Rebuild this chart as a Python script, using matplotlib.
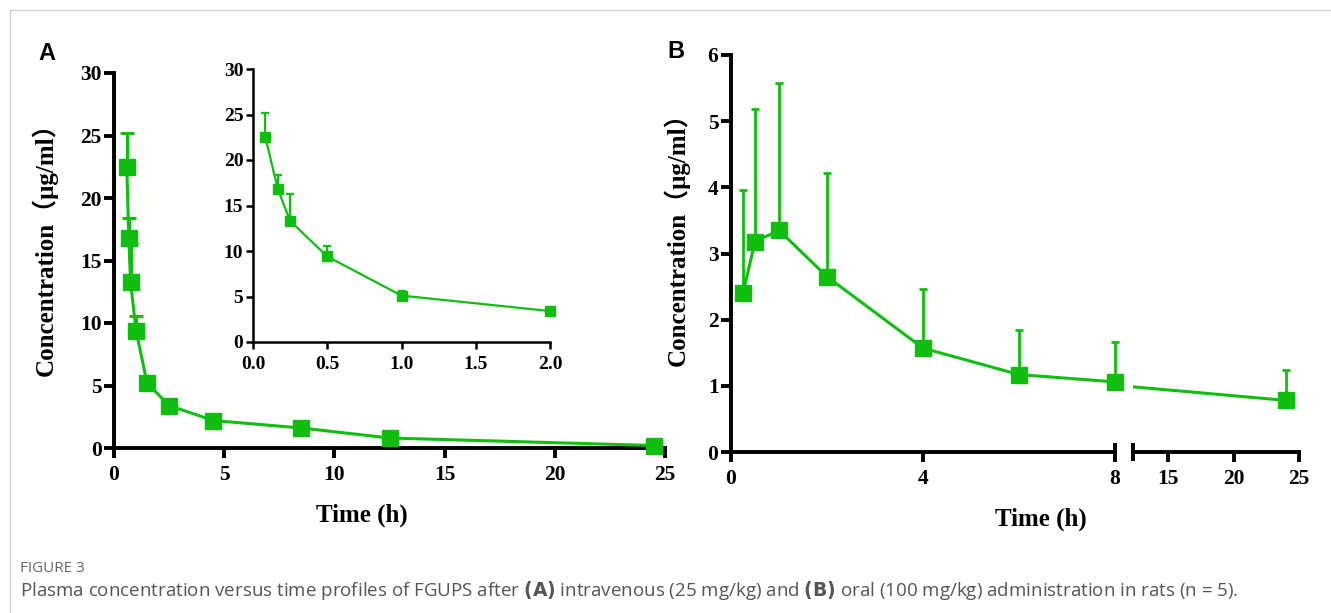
import matplotlib
matplotlib.use("Agg")
import matplotlib.pyplot as plt
from matplotlib.lines import Line2D

# ---------------- data ----------------
# Panel A (intravenous), main plot (x as plotted)
a_time = [0.58, 0.67, 0.75, 1.0, 1.5, 2.5, 4.5, 8.5, 12.5, 24.5]
a_conc = [22.5, 16.8, 13.3, 9.4, 5.2, 3.4, 2.2, 1.6, 0.8, 0.2]
a_err = [2.7, 1.6, 3.0, 1.2, 0.4, 0.2, 0.15, 0.1, 0.1, 0.05]
# Panel A inset (first 2 h)
ins_time = [0.083, 0.167, 0.25, 0.5, 1.0, 2.0]
ins_conc = [22.5, 16.8, 13.3, 9.4, 5.1, 3.4]
ins_err = [2.7, 1.6, 3.0, 1.2, 0.5, 0.1]
# Panel B (oral)
b_time = [0.25, 0.5, 1, 2, 4, 6, 8, 24]
b_conc = [2.40, 3.18, 3.35, 2.65, 1.57, 1.17, 1.06, 0.78]
b_err = [1.56, 2.00, 2.22, 1.57, 0.90, 0.67, 0.61, 0.46]

a_xticks = [0, 5, 10, 15, 20, 25]
a_yticks = [0, 5, 10, 15, 20, 25, 30]
ins_xticks = [0.0, 0.5, 1.0, 1.5, 2.0]
b_yticks = [0, 1, 2, 3, 4, 5, 6]
b_xticks1 = [0, 4, 8]
b_xticks2 = [15, 20, 25]

GREEN = "#10BE10"
W, H = 1331, 613
fig = plt.figure(figsize=(W / 100, H / 100), dpi=100)

def ax_px(l, r, t, b):
    return fig.add_axes([l / W, 1 - b / H, (r - l) / W, (b - t) / H])

SERIF = ["Liberation Serif", "Noto Sans CJK SC", "DejaVu Serif"]

def style(ax, lw=2.8, fs=15.5, tl=7, xpad=5, ypad=2):
    for s in ["top", "right"]:
        ax.spines[s].set_visible(False)
    for s in ["left", "bottom"]:
        ax.spines[s].set_linewidth(lw)
    ax.tick_params(width=lw, length=tl, direction="out")
    ax.tick_params(axis="x", pad=xpad)
    ax.tick_params(axis="y", pad=ypad)
    for lab in ax.get_xticklabels() + ax.get_yticklabels():
        lab.set_family(SERIF)
        lab.set_fontweight("bold")
        lab.set_fontsize(fs)

# ---------------- Panel A main ----------------
axA = ax_px(114, 665, 73, 448)
axA.errorbar(a_time, a_conc, yerr=[[0] * len(a_err), a_err], color=GREEN,
             lw=2.2, marker="s", ms=11.5, capsize=5, capthick=2.2, elinewidth=2.2,
             clip_on=False, zorder=3)
axA.set_xlim(0, 25)
axA.set_ylim(0, 30)
axA.set_xticks(a_xticks)
axA.set_yticks(a_yticks)
style(axA)
axA.set_ylabel("Concentration（μg/ml）", family=SERIF, fontweight="bold", fontsize=18)
axA.yaxis.set_label_coords(-(114 - 58) / (665 - 114), 0.545)

# ---------------- Panel A inset ----------------
axI = ax_px(253, 550, 69, 342)
axI.errorbar(ins_time, ins_conc, yerr=[[0] * len(ins_err), ins_err], color=GREEN,
             lw=1.6, marker="s", ms=6.5, capsize=3, capthick=1.6, elinewidth=1.6,
             clip_on=False, zorder=3)
axI.set_xlim(0, 2.0)
axI.set_ylim(0, 30)
axI.set_xticks(ins_xticks)
axI.set_xticklabels([f"{v:.1f}" for v in ins_xticks])
axI.set_yticks(a_yticks)
style(axI, lw=1.8, fs=14, tl=5, xpad=5, ypad=2)

# ---------------- Panel B ----------------
axB1 = ax_px(731, 1115, 55, 452)
axB1.errorbar(b_time[:-1], b_conc[:-1], yerr=[[0] * 7, b_err[:-1]], color=GREEN,
              lw=2.2, marker="s", ms=11.5, capsize=3, capthick=2.0, elinewidth=2.0,
              clip_on=False, zorder=3)
axB1.set_xlim(0, 8)
axB1.set_ylim(0, 6)
axB1.set_xticks(b_xticks1)
axB1.set_yticks(b_yticks)
style(axB1)
axB1.set_ylabel("Concentration（μg/ml）", family=SERIF, fontweight="bold", fontsize=18)
axB1.yaxis.set_label_coords(-(731 - 690) / (1115 - 731), 0.55)

axB2 = ax_px(1133, 1299, 55, 452)
axB2.plot(b_time[-2:], b_conc[-2:], color=GREEN, lw=2.2, clip_on=True, zorder=2)
axB2.errorbar(b_time[-1:], b_conc[-1:], yerr=[[0], b_err[-1:]], color=GREEN,
              lw=2.2, marker="s", ms=11.5, capsize=3, capthick=2.0, elinewidth=2.0,
              clip_on=False, zorder=3)
axB2.set_xlim(12.3, 25)
axB2.set_ylim(0, 6)
axB2.set_xticks(b_xticks2)
axB2.set_yticks([])
style(axB2)
axB2.spines["left"].set_visible(False)

# break caps
axB1.plot([8], [0], marker="|", ms=13, mew=2.8, color="black", clip_on=False, zorder=4)
axB2.plot([12.3], [0], marker="|", ms=13, mew=2.8, color="black", clip_on=False, zorder=4)

# x-axis titles
fig.text(362 / W, 1 - 515 / H, "Time (h)", family=SERIF, fontweight="bold",
         fontsize=18, ha="center", va="center")
fig.text(1041 / W, 1 - 519 / H, "Time (h)", family=SERIF, fontweight="bold",
         fontsize=18, ha="center", va="center")

# panel letters
fig.text(47 / W, 1 - 53 / H, "A", fontsize=17, fontweight="bold", family="Liberation Sans",
         ha="center", va="center")
fig.text(676 / W, 1 - 52 / H, "B", fontsize=17, fontweight="bold", family="Liberation Sans",
         ha="center", va="center")

# frame lines
fig.add_artist(Line2D([10 / W, 1], [1 - 10 / H, 1 - 10 / H], color="#d0d0d0", lw=1))
fig.add_artist(Line2D([10 / W, 10 / W], [0, 1 - 10 / H], color="#d0d0d0", lw=1))

# caption
fig.text(20 / W, 1 - 569 / H, "FIGURE 3", fontsize=11, color="#666666",
         family="Open Sans", va="center")
cap = ("Plasma concentration versus time profiles of FGUPS after $\\bf{(A)}$ intravenous (25 mg/kg) "
       "and $\\bf{(B)}$ oral (100 mg/kg) administration in rats (n = 5).")
fig.text(20 / W, 1 - 590 / H, cap, fontsize=13.5, color="#555555",
         family="Open Sans", va="center")

fig.savefig("out.png", dpi=100)
